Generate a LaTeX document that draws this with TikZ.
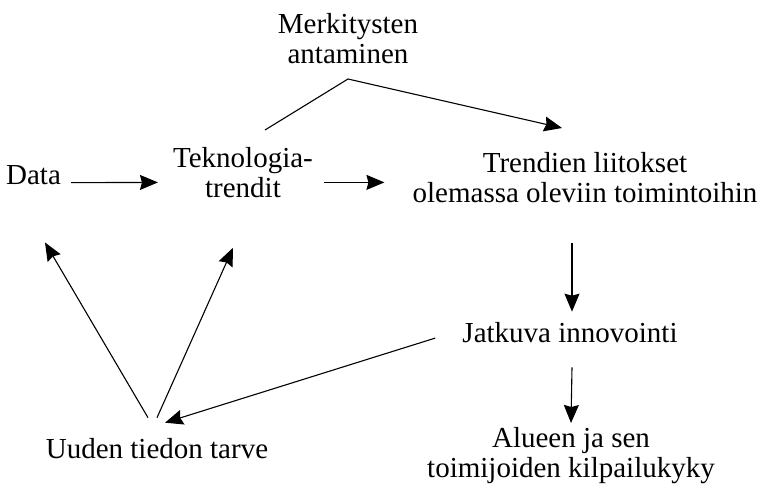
\documentclass[tikz,border=0pt]{standalone}
\usepackage{fontspec}
\setmainfont{Liberation Serif}
\usetikzlibrary{arrows.meta}
\begin{document}
\begin{tikzpicture}[x=1pt,y=1pt,>={Stealth[length=18pt,width=15pt,inset=2pt]},
    lbl/.style={inner sep=0pt,align=center,font=\fontsize{29}{30}\selectfont},
    conn/.style={->,line width=1.1pt}]
\useasboundingbox (0,0) rectangle (763,496);
% texts
\node[lbl,anchor=base](data) at (33.5,311){Data};
\node[lbl,anchor=north](tek) at (243,349){Teknologia-\\trendit};
\node[lbl,anchor=north](merk) at (348,482.8){Merkitysten\\antaminen};
\node[lbl,anchor=north](trend) at (585,344){Trendien liitokset\\olemassa oleviin toimintoihin};
\node[lbl,anchor=base](jatk) at (570,154){Jatkuva innovointi};
\node[lbl,anchor=north](alue) at (571,69){Alueen ja sen\\toimijoiden kilpailukyky};
\node[lbl,anchor=base](uuden) at (157,38){Uuden tiedon tarve};
% arrows
\draw[conn]([shift={(10pt,-7pt)}]data.east)--([shift={(-15pt,-10pt)}]tek.west);
\draw[conn]([shift={(11pt,-10pt)}]tek.east)--([shift={(-28pt,-5pt)}]trend.west);
\draw[conn]([shift={(22pt,17pt)}]tek.north)--([yshift=-15pt]merk.south)--([shift={(-23pt,24pt)}]trend.north);
\draw[conn]([shift={(-13pt,-40pt)}]trend.south)--([shift={(2pt,10pt)}]jatk.north);
\draw[conn]([shift={(2pt,-25pt)}]jatk.south)--([yshift=4pt]alue.north);
\draw[conn]([shift={(-27pt,-6pt)}]jatk.west)--([shift={(8pt,15pt)}]uuden.north);
\foreach \dx/\tgt/\ex/\ey in {-9/data.south/11.5/-57, 0/tek.south/-10/-50}
{
    \draw[conn]([shift={(\dx pt,20pt)}]uuden.north)--([shift={(\ex pt,\ey pt)}]\tgt);
}
\end{tikzpicture}
\end{document}
